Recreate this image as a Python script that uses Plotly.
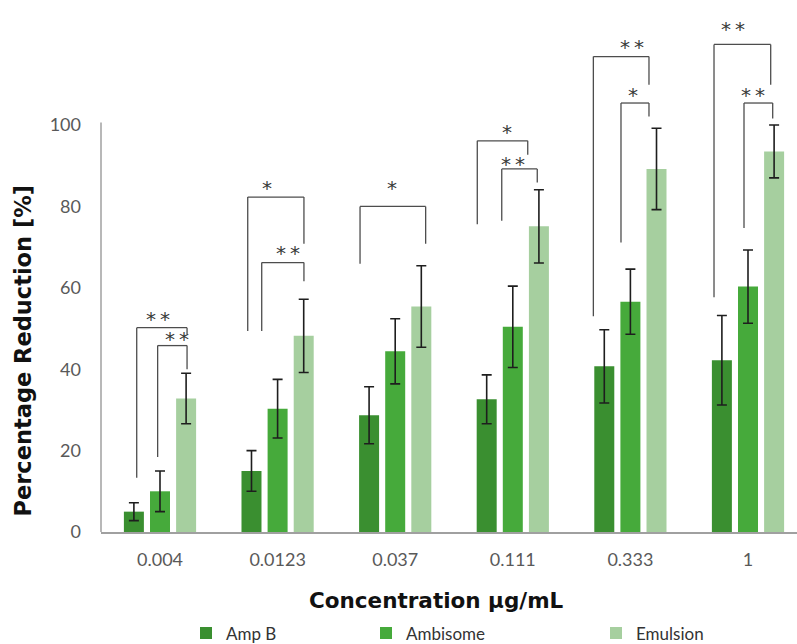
import plotly.graph_objects as go

# ---------------- data ----------------
categories = ["0.004", "0.0123", "0.037", "0.111", "0.333", "1"]
series_names = ["Amp B", "Ambisome", "Emulsion"]
amp_b = [5.0, 15.0, 28.7, 32.6, 40.7, 42.2]
amp_b_err = [2.2, 5.0, 7.0, 6.0, 9.0, 11.0]
ambisome = [10.0, 30.3, 44.4, 50.4, 56.6, 60.3]
ambisome_err = [5.0, 7.2, 8.0, 10.0, 8.0, 9.0]
emulsion = [32.8, 48.2, 55.4, 75.1, 89.2, 93.5]
emulsion_err = [6.2, 9.0, 10.0, 9.0, 10.0, 6.5]
y_ticks = [0, 20, 40, 60, 80, 100]

# significance brackets (group index, left x offset, right x offset,
# left leg bottom, top, right leg bottom, label x offset, label y, label)
br_group = [0, 0, 1, 1, 2, 3, 3, 4, 4, 5, 5]
br_xl = [-0.198, -0.020, -0.254, -0.135, -0.299, -0.302, -0.094, -0.315, -0.080, -0.289, -0.034]
br_xr = [0.230, 0.230, 0.224, 0.224, 0.259, 0.127, 0.208, 0.158, 0.158, 0.193, 0.210]
br_yl = [13.3, 18.4, 49.4, 49.4, 65.9, 75.6, 76.5, 53.0, 71.1, 57.7, 74.7]
br_top = [50.2, 45.8, 82.3, 66.2, 80.0, 96.1, 89.2, 116.8, 105.4, 119.8, 105.4]
br_yr = [48.6, 40.0, 70.8, 61.6, 70.8, 92.7, 85.9, 109.9, 102.1, 109.9, 101.6]
br_lx = [-0.014, 0.142, -0.093, 0.091, -0.025, -0.052, 0.004, 0.011, 0.025, -0.125, 0.045]
br_ly = [53.6, 48.5, 85.8, 69.7, 85.8, 99.6, 91.5, 120.4, 108.6, 124.9, 108.6]
br_label = ["**", "**", "*", "**", "*", "*", "**", "**", "*", "**", "**"]

# ---------------- styling ----------------
colors = ["#3a8f30", "#46aa3b", "#a6cf9f"]
W, H = 797, 644
ML, MR, MT, MB = 101, 0, 5, 112
px_per_unit = 4.07
plot_h = H - MT - MB
plot_w = W - ML - MR
cat_px = 117.6
x0_px = 160 - ML
x_range = [-x0_px / cat_px, -x0_px / cat_px + plot_w / cat_px]
y_range = [0, plot_h / px_per_unit]

fig = go.Figure()
vals = [amp_b, ambisome, emulsion]
errs = [amp_b_err, ambisome_err, emulsion_err]
legend_ids = ["legend", "legend2", "legend3"]
for name, v, e, c, lg in zip(series_names, vals, errs, colors, legend_ids):
    fig.add_trace(go.Bar(
        x=categories, y=v, name=name, legend=lg,
        marker=dict(color=c, line=dict(width=0)),
        error_y=dict(type="data", array=e, visible=True, color="#1e1e1e",
                     thickness=1.6, width=5),
    ))

shapes = []
annotations = []
line_style = dict(color="#4d4d4d", width=1.3)
star_shift = 1.2  # asterisk glyph sits high in its box
for g, xl, xr, yl, yt, yr, lx, ly, lab in zip(br_group, br_xl, br_xr, br_yl,
                                              br_top, br_yr, br_lx, br_ly, br_label):
    xL = g + xl
    xR = g + xr
    shapes.append(dict(type="line", xref="x", yref="y", x0=xL, x1=xL, y0=yl, y1=yt, line=line_style))
    shapes.append(dict(type="line", xref="x", yref="y", x0=xL, x1=xR, y0=yt, y1=yt, line=line_style))
    shapes.append(dict(type="line", xref="x", yref="y", x0=xR, x1=xR, y0=yt, y1=yr, line=line_style))
    annotations.append(dict(x=g + lx, y=ly - star_shift, xref="x", yref="y",
                            text="\u2009".join(lab),
                            showarrow=False, xanchor="center", yanchor="middle",
                            font=dict(family="DejaVu Sans", size=20, color="#3a3a3a")))

# y axis line (only spans 0-100)
shapes.append(dict(type="line", xref="paper", yref="y", x0=0, x1=0, y0=0, y1=100.6,
                   line=dict(color="#a0a0a0", width=1.5)))

# axis titles
annotations.append(dict(x=(436 - ML) / plot_w, y=(531.5 - 600) / plot_h, xref="paper", yref="paper",
                        text="Concentration µg/mL", showarrow=False, xanchor="center", yanchor="middle",
                        font=dict(family="DejaVu Sans", size=21.5, color="#111111", weight="bold")))
annotations.append(dict(x=(23 - ML) / plot_w, y=(531.5 - 350) / plot_h, xref="paper", yref="paper",
                        text="Percentage Reduction [%]", showarrow=False, textangle=-90,
                        xanchor="center", yanchor="middle",
                        font=dict(family="DejaVu Sans", size=22.5, color="#111111", weight="bold")))

legend_font = dict(family="Lato", size=17, color="#333333")
leg_sq = [206, 386, 616]
legs = {}
for lg, sx in zip(legend_ids, leg_sq):
    legs[lg] = dict(x=(sx - 20 - ML) / plot_w, y=(531.5 - 633) / plot_h, xanchor="left",
                    yanchor="middle", orientation="h", font=legend_font,
                    bgcolor="rgba(0,0,0,0)", borderwidth=0, tracegroupgap=0)

fig.update_layout(
    width=W, height=H,
    margin=dict(l=ML, r=MR, t=MT, b=MB, autoexpand=False),
    paper_bgcolor="white", plot_bgcolor="white",
    barmode="group", bargap=0.334, bargroupgap=0.234,
    showlegend=True,
    shapes=shapes, annotations=annotations,
    xaxis=dict(type="category", range=x_range, showline=True, linecolor="#a0a0a0", linewidth=1.5,
               showgrid=False, zeroline=False, ticks="", ticklabelstandoff=11,
               tickfont=dict(family="Lato", size=18, color="#595959")),
    yaxis=dict(range=y_range, tickvals=y_ticks, showline=False, showgrid=False, zeroline=False,
               ticks="", ticklabelstandoff=19,
               tickfont=dict(family="Lato", size=18, color="#595959")),
    **legs,
)

fig.write_html("out.html", config={"displayModeBar": False},
               post_script="document.body.style.margin='0';")
